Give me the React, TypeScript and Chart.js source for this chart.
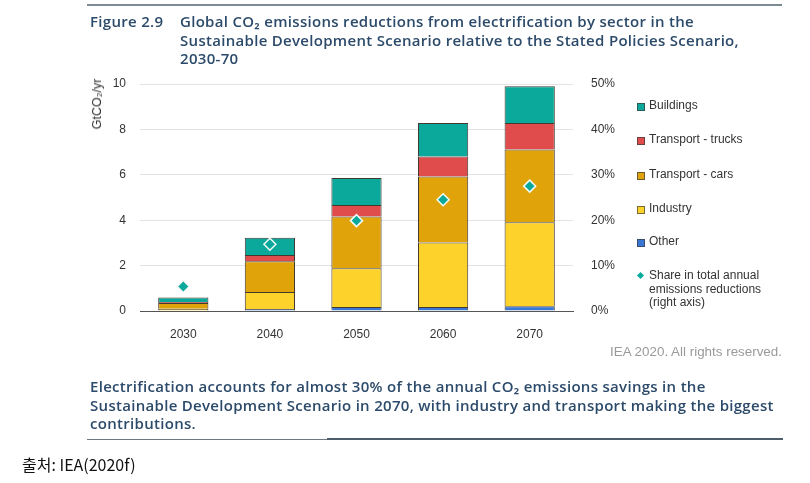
import React, { useEffect, useRef } from "react";
import { Chart, registerables } from "chart.js";

Chart.register(...registerables);

const years = ["2030", "2040", "2050", "2060", "2070"];
const other = [0.02, 0.09, 0.18, 0.18, 0.21];
const industry = [0.08, 0.75, 1.7, 2.84, 3.7];
const cars = [0.25, 1.35, 2.28, 2.9, 3.21];
const trucks = [0.05, 0.28, 0.51, 0.89, 1.16];
const buildings = [0.2, 0.76, 1.19, 1.47, 1.62];
const share = [5.4, 14.7, 19.9, 24.5, 27.5];
const leftTicks = [0, 2, 4, 6, 8, 10];
const rightTicks = [0, 10, 20, 30, 40, 50];

const C_BUILD = "#0aa99b";
const C_TRUCK = "#e04b4b";
const C_CARS = "#e0a40a";
const C_IND = "#fdd22a";
const C_OTHER = "#3a77d4";

const titleColor = "#2c4a6a";
const headFont = "'Open Sans', sans-serif";
const chartFont = "'Liberation Sans', Arial, sans-serif";

const legendItems = [
  { label: "Buildings", color: C_BUILD, y: 106 },
  { label: "Transport - trucks", color: C_TRUCK, y: 140 },
  { label: "Transport - cars", color: C_CARS, y: 175 },
  { label: "Industry", color: C_IND, y: 209 },
  { label: "Other", color: C_OTHER, y: 242 },
];

export default function App() {
  const ref = useRef<HTMLCanvasElement>(null);
  useEffect(() => {
    if (!ref.current) return;
    const border = "rgba(45,35,25,0.9)";
    const bar = (label: string, data: number[], color: string) => ({
      type: "bar" as const,
      label,
      data,
      backgroundColor: color,
      borderColor: border,
      borderWidth: 1,
      yAxisID: "y",
      order: 2,
      barPercentage: 0.58,
      categoryPercentage: 1,
    });
    const tickFont = { family: chartFont, size: 12 };
    const chart = new Chart(ref.current, {
      type: "bar",
      data: {
        labels: years,
        datasets: [
          {
            type: "line" as const,
            label: "Share in total annual emissions reductions (right axis)",
            data: share,
            yAxisID: "y1",
            showLine: false,
            pointStyle: "rectRot",
            pointRadius: 6,
            pointBackgroundColor: C_BUILD,
            pointBorderColor: "#f4fbf6",
            pointBorderWidth: 1.5,
            order: 0,
          } as any,
          bar("Other", other, C_OTHER),
          bar("Industry", industry, C_IND),
          bar("Transport - cars", cars, C_CARS),
          bar("Transport - trucks", trucks, C_TRUCK),
          bar("Buildings", buildings, C_BUILD),
        ],
      },
      options: {
        responsive: false,
        animation: false,
        layout: { padding: { left: 80, right: 192, top: 84, bottom: 142 } },
        plugins: { legend: { display: false }, tooltip: { enabled: false } },
        scales: {
          x: {
            stacked: true,
            grid: { display: false },
            border: { display: true, color: "#555", width: 1 },
            ticks: { color: "#333", font: tickFont, padding: 8 },
            afterFit: (s: any) => { s.height = 30; },
          },
          y: {
            stacked: true,
            min: 0,
            max: 10,
            afterBuildTicks: (s: any) => { s.ticks = leftTicks.map((v) => ({ value: v })); },
            grid: { color: "#e3e3e3", drawTicks: false },
            border: { display: false },
            ticks: { color: "#333", font: tickFont, padding: 14 },
            afterFit: (s: any) => { s.width = 60; },
          },
          y1: {
            position: "right",
            min: 0,
            max: 50,
            afterBuildTicks: (s: any) => { s.ticks = rightTicks.map((v) => ({ value: v })); },
            grid: { display: false },
            border: { display: false },
            ticks: {
              color: "#333",
              font: tickFont,
              padding: 10,
              callback: (v: any) => v + "%",
            },
            afterFit: (s: any) => { s.width = 45; },
          },
        },
      },
    });
    return () => chart.destroy();
  }, []);

  const txt: React.CSSProperties = {
    position: "absolute",
    fontFamily: headFont,
    fontWeight: 600,
    fontSize: 15,
    letterSpacing: "0.3px",
    color: titleColor,
    whiteSpace: "nowrap",
    lineHeight: "18.5px",
  };
  const leg: React.CSSProperties = {
    position: "absolute",
    fontFamily: chartFont,
    fontSize: 12,
    color: "#333",
    whiteSpace: "nowrap",
    lineHeight: "13.5px",
  };

  return (
    <div style={{ position: "absolute", left: 0, top: 0, width: 810, height: 483, background: "#fff", overflow: "hidden" }}>
      <canvas ref={ref} width={810} height={483} style={{ position: "absolute", left: 0, top: 0 }} />
      <div style={{ position: "absolute", left: 87, top: 4, width: 695, height: 2, background: "#7d8a92" }} />
      <div style={{ ...txt, left: 90, top: 12 }}>Figure 2.9</div>
      <div style={{ ...txt, left: 180, top: 12 }}>
        Global CO₂ emissions reductions from electrification by sector in the
        <br />
        Sustainable Development Scenario relative to the Stated Policies Scenario,
        <br />
        2030-70
      </div>
      <div
        style={{
          position: "absolute",
          left: 97,
          top: 104,
          fontFamily: chartFont,
          fontSize: 12.5,
          color: "#333",
          whiteSpace: "nowrap",
          transform: "translate(-50%, -50%) rotate(-90deg)",
        }}
      >
        GtCO₂/yr
      </div>
      {legendItems.map((it) => (
        <div key={it.label}>
          <div
            style={{
              position: "absolute",
              left: 637,
              top: it.y - 3,
              width: 6,
              height: 6,
              background: it.color,
              border: "1px solid rgba(60,60,60,0.7)",
            }}
          />
          <div style={{ ...leg, left: 649, top: it.y - 7 }}>{it.label}</div>
        </div>
      ))}
      <div
        style={{
          position: "absolute",
          left: 638,
          top: 273,
          width: 5,
          height: 5,
          background: C_BUILD,
          transform: "rotate(45deg)",
        }}
      />
      <div style={{ ...leg, left: 649, top: 269 }}>
        Share in total annual
        <br />
        emissions reductions
        <br />
        (right axis)
      </div>
      <div
        style={{
          position: "absolute",
          right: 28,
          top: 344,
          fontFamily: chartFont,
          fontSize: 13.4,
          color: "#9a9a9a",
          whiteSpace: "nowrap",
        }}
      >
        IEA 2020. All rights reserved.
      </div>
      <div style={{ ...txt, left: 90, top: 377 }}>
        Electrification accounts for almost 30% of the annual CO₂ emissions savings in the
        <br />
        Sustainable Development Scenario in 2070, with industry and transport making the biggest
        <br />
        contributions.
      </div>
      <div style={{ position: "absolute", left: 87, top: 439, width: 240, height: 1, background: "#6d7a84" }} />
      <div style={{ position: "absolute", left: 327, top: 438, width: 456, height: 2, background: "#4f5e6b" }} />
      <div
        style={{
          position: "absolute",
          left: 22,
          top: 452,
          fontFamily: "'Noto Sans CJK KR', sans-serif",
          fontSize: 16,
          color: "#111",
          whiteSpace: "nowrap",
        }}
      >
        출처: IEA(2020f)
      </div>
    </div>
  );
}
